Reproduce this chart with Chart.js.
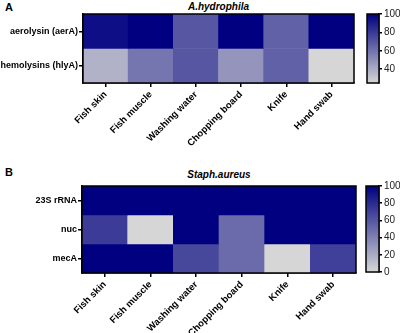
<!DOCTYPE html>
<html>
<head>
<meta charset="utf-8">
<script src="https://cdn.jsdelivr.net/npm/chart.js@4.4.0/dist/chart.umd.min.js"></script>
<style>
  body { margin: 0; background: #fff; width: 400px; height: 333px; position: relative; overflow: hidden; font-family: "Liberation Sans", Arial, sans-serif; }
  canvas { position: absolute; }
  .lbl { position: absolute; font-weight: bold; color: #000; white-space: nowrap; }
  .ttl { position: absolute; font-weight: bold; font-style: italic; font-size: 10px; text-align: center; color: #000; }
</style>
</head>
<body>
<div class="lbl" style="left:5px;top:1px;font-size:11px">A</div>
<div class="ttl" style="left:83px;width:271px;top:1px">A.hydrophila</div>
<div class="lbl" style="left:5px;top:166px;font-size:11px">B</div>
<div class="ttl" style="left:82px;width:274px;top:169px">Staph.aureus</div>

<canvas id="heatA" width="360" height="165" style="left:0;top:0"></canvas>
<canvas id="barA" width="45" height="100" style="left:355px;top:0"></canvas>
<canvas id="heatB" width="360" height="163" style="left:0;top:170px"></canvas>
<canvas id="barB" width="45" height="110" style="left:355px;top:170px"></canvas>

<script>
// categories
const samples = ['Fish skin', 'Fish muscle', 'Washing water', 'Chopping board', 'Knife', 'Hand swab'];
const genesA = ['aerolysin (aerA)', 'hemolysins (hlyA)'];
const genesB = ['23S rRNA', 'nuc', 'mecA'];

// values (%)
const aerA = [95, 100, 70, 100, 66, 100];
const hlyA = [38, 59, 70, 48, 66, 25];
const rRNA23S = [100, 100, 100, 100, 100, 100];
const nuc = [72, 0, 100, 50, 100, 100];
const mecA = [100, 100, 67, 50, 0, 70];

// colour scale ranges and ticks
const rangeA = [25, 100];
const rangeB = [0, 100];
const ticksA = [40, 60, 80, 100];
const ticksB = [0, 20, 40, 60, 80, 100];

const LIGHT = [214, 214, 214];
const NAVY = [0, 0, 128];

function shade(v, min, max) {
  let t = (v - min) / (max - min);
  t = Math.max(0, Math.min(1, t));
  const c = LIGHT.map((l, i) => Math.round(l + (NAVY[i] - l) * t));
  return 'rgb(' + c.join(',') + ')';
}

// draws the black frame round the plot area
const frame = {
  id: 'frame',
  afterDraw(chart) {
    const a = chart.chartArea, c = chart.ctx;
    c.save();
    c.strokeStyle = '#000';
    c.lineWidth = 1.5;
    c.strokeRect(a.left, a.top, a.right - a.left, a.bottom - a.top);
    c.restore();
  }
};

function heatmap(id, rows, values, range, pad, yWidth, xHeight) {
  const n = rows.length;
  new Chart(document.getElementById(id), {
    type: 'bar',
    data: {
      labels: samples,
      datasets: values.map((vals, i) => ({
        label: rows[i],
        data: vals.map(() => [n - 1 - i, n - i]),
        backgroundColor: vals.map(v => shade(v, range[0], range[1])),
        borderWidth: 0,
        barPercentage: 1,
        categoryPercentage: 1,
        grouped: false
      }))
    },
    options: {
      responsive: false,
      animation: false,
      layout: { padding: pad },
      plugins: { legend: { display: false }, tooltip: { enabled: false } },
      scales: {
        x: {
          grid: { offset: false, drawOnChartArea: false, color: '#000', lineWidth: 1.5, tickLength: 4 },
          border: { color: '#000', width: 1.5 },
          ticks: { color: '#000', font: { family: 'Liberation Sans', size: 9.5, weight: 'bold' }, maxRotation: 45, minRotation: 45, padding: 2 },
          afterFit: s => { s.height = xHeight; }
        },
        y: {
          min: 0, max: n,
          grid: { drawOnChartArea: false, color: '#000', lineWidth: 1.5, tickLength: 4 },
          border: { color: '#000', width: 1.5 },
          afterBuildTicks: ax => { ax.ticks = rows.map((r, i) => ({ value: n - 0.5 - i })); },
          ticks: {
            color: '#000', font: { family: 'Liberation Sans', size: 9, weight: 'bold' }, padding: 1,
            callback: v => rows[Math.round(n - 0.5 - v)]
          },
          afterFit: s => { s.width = yWidth; }
        }
      }
    },
    plugins: [frame]
  });
}

function colorbar(id, range, ticks, pad) {
  new Chart(document.getElementById(id), {
    type: 'bar',
    data: {
      labels: [''],
      datasets: [{
        data: [range],
        backgroundColor: ctx => {
          const a = ctx.chart.chartArea;
          if (!a) return 'rgb(0,0,128)';
          const g = ctx.chart.ctx.createLinearGradient(0, a.bottom, 0, a.top);
          g.addColorStop(0, shade(range[0], range[0], range[1]));
          g.addColorStop(1, shade(range[1], range[0], range[1]));
          return g;
        },
        borderWidth: 0,
        barPercentage: 1,
        categoryPercentage: 1
      }]
    },
    options: {
      responsive: false,
      animation: false,
      layout: { padding: pad },
      plugins: { legend: { display: false }, tooltip: { enabled: false } },
      scales: {
        x: { display: false },
        y: {
          position: 'right',
          min: range[0], max: range[1],
          grid: { drawOnChartArea: false, color: '#000', lineWidth: 1.5, tickLength: 3 },
          border: { color: '#000', width: 1.5 },
          afterBuildTicks: ax => { ax.ticks = ticks.map(v => ({ value: v })); },
          ticks: { color: '#222', font: { family: 'Liberation Sans', size: 10 }, padding: 2 },
          afterFit: s => { s.width = 21; }
        }
      }
    },
    plugins: [frame]
  });
}

heatmap('heatA', genesA, [aerA, hlyA], rangeA, { top: 14, right: 6, left: 0, bottom: 0 }, 83, 82);
heatmap('heatB', genesB, [rRNA23S, nuc, mecA], rangeB, { top: 16, right: 4, left: 0, bottom: 0 }, 82, 60);
colorbar('barA', rangeA, ticksA, { top: 14, bottom: 17, left: 12, right: 0 });
colorbar('barB', rangeB, ticksB, { top: 16, bottom: 7, left: 11, right: 0 });
</script>
</body>
</html>
